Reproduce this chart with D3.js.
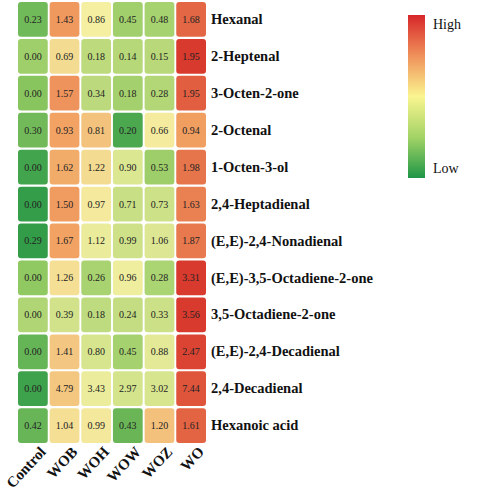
<!DOCTYPE html>
<html><head><meta charset="utf-8">
<script src="https://cdn.jsdelivr.net/npm/d3@7"></script>
<style>body{margin:0;background:#fff}svg{display:block}</style>
</head><body>
<svg id="c" width="500" height="490"></svg>
<script>
const samples = ["Control","WOB","WOH","WOW","WOZ","WO"];
const compounds = ["Hexanal","2-Heptenal","3-Octen-2-one","2-Octenal","1-Octen-3-ol","2,4-Heptadienal","(E,E)-2,4-Nonadienal","(E,E)-3,5-Octadiene-2-one","3,5-Octadiene-2-one","(E,E)-2,4-Decadienal","2,4-Decadienal","Hexanoic acid"];
const values = [
  [0.23,1.43,0.86,0.45,0.48,1.68],
  [0.00,0.69,0.18,0.14,0.15,1.95],
  [0.00,1.57,0.34,0.18,0.28,1.95],
  [0.30,0.93,0.81,0.20,0.66,0.94],
  [0.00,1.62,1.22,0.90,0.53,1.98],
  [0.00,1.50,0.97,0.71,0.73,1.63],
  [0.29,1.67,1.12,0.99,1.06,1.87],
  [0.00,1.26,0.26,0.96,0.28,3.31],
  [0.00,0.39,0.18,0.24,0.33,3.56],
  [0.00,1.41,0.80,0.45,0.88,2.47],
  [0.00,4.79,3.43,2.97,3.02,7.44],
  [0.42,1.04,0.99,0.43,1.20,1.61]
];
const legendLabels = ["High","Low"];

const svg = d3.select("#c");
const x = d3.scaleBand().domain(samples).range([18,206]).paddingInner(0.06).paddingOuter(0);
const y = d3.scaleBand().domain(compounds).range([2,443]).paddingInner(0.06).paddingOuter(0);
const color = d3.scaleLinear().domain([-1.6,-0.8,0,0.9,1.8])
  .range(['#2e9a47','#93ca62','#f4f0a2','#f2a363','#d83a2e']).clamp(true);

const cells = [];
values.forEach((row,i)=>{
  const m = d3.mean(row), s = d3.deviation(row);
  row.forEach((v,j)=>cells.push({c:compounds[i], s:samples[j], v, z:(v-m)/s}));
});

const g = svg.append("g");
g.selectAll("rect").data(cells).join("rect")
  .attr("x",d=>x(d.s)).attr("y",d=>y(d.c))
  .attr("width",x.bandwidth()).attr("height",y.bandwidth())
  .attr("rx",3).attr("fill",d=>color(d.z));
g.selectAll("text.v").data(cells).join("text").attr("class","v")
  .attr("x",d=>x(d.s)+x.bandwidth()/2).attr("y",d=>y(d.c)+y.bandwidth()/2)
  .attr("text-anchor","middle").attr("dominant-baseline","central")
  .attr("font-family","Liberation Serif, serif").attr("font-size",10).attr("fill","#222")
  .text(d=>d.v.toFixed(2));

// row labels
const yAxis = d3.axisRight(y).tickSize(0).tickPadding(0);
const ya = svg.append("g").attr("transform","translate(211,0)").call(yAxis);
ya.select(".domain").remove();
ya.selectAll("text").attr("font-family","Liberation Serif, serif").attr("font-size",14.5)
  .attr("font-weight","bold").attr("fill","#111");

// column labels
const xAxis = d3.axisBottom(x).tickSize(0).tickPadding(0);
const xa = svg.append("g").attr("transform","translate(0,449)").call(xAxis);
xa.select(".domain").remove();
xa.selectAll("text").attr("font-family","Liberation Serif, serif").attr("font-size",15)
  .attr("font-weight","bold").attr("fill","#111")
  .attr("text-anchor","end").attr("dy","0.35em")
  .attr("transform","translate(10,0) rotate(-47)");

// legend
const defs = svg.append("defs");
const lg = defs.append("linearGradient").attr("id","lg").attr("x1",0).attr("y1",0).attr("x2",0).attr("y2",1);
[[0,'#d7262a'],[0.25,'#f0915a'],[0.5,'#faf590'],[0.75,'#a3d366'],[1,'#1e9646']].forEach(([o,c])=>
  lg.append("stop").attr("offset",o).attr("stop-color",c));
const ly = d3.scaleLinear().domain([1,0]).range([15,178]);
svg.append("rect").attr("x",408).attr("y",ly(1)).attr("width",17).attr("height",ly(0)-ly(1)).attr("fill","url(#lg)");
svg.selectAll("text.lg").data(legendLabels).join("text").attr("class","lg")
  .attr("x",433).attr("y",(d,i)=>i===0?ly(1)+14:ly(0)-5)
  .attr("font-family","Liberation Serif, serif").attr("font-size",14).attr("fill","#111")
  .text(d=>d);
</script>
</body></html>
